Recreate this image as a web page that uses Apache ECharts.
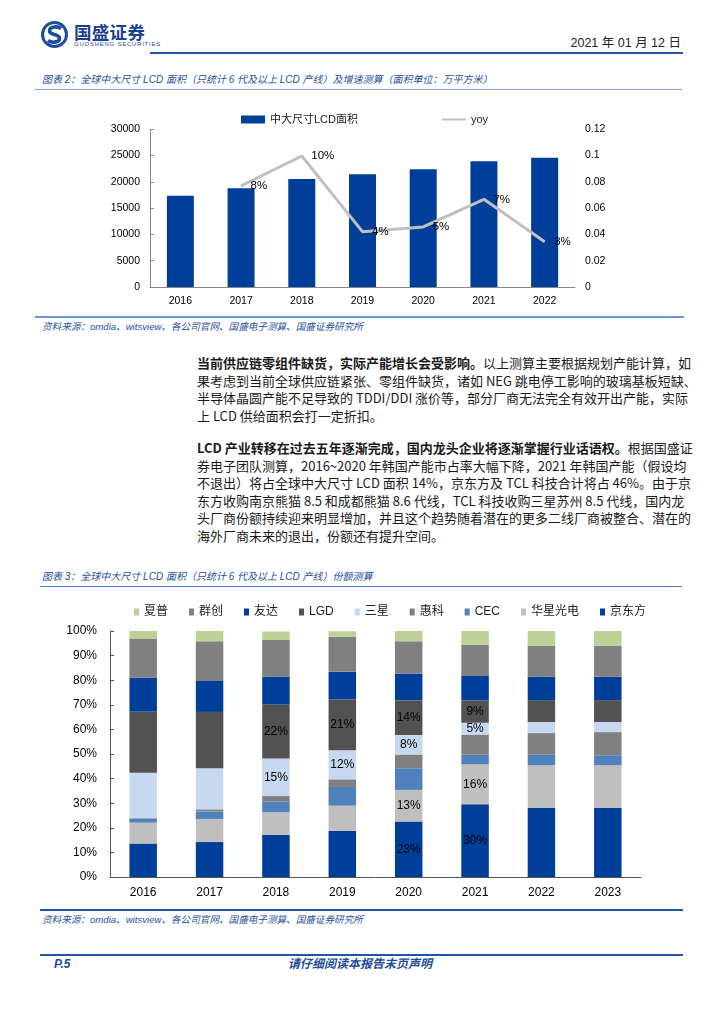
<!DOCTYPE html>
<html>
<head>
<meta charset="utf-8">
<script src="https://cdn.jsdelivr.net/npm/echarts@6/dist/echarts.min.js"></script>
<style>
  html, body { margin:0; padding:0; background:#fff; }
  body { width:724px; height:1024px; position:relative; overflow:hidden;
         font-family:"Liberation Sans","Noto Sans CJK SC",sans-serif; color:#1a1a1a; }
  .abs { position:absolute; white-space:nowrap; }
  .rule { position:absolute; }
  .cap { position:absolute; font-style:italic; color:#1f4e9c; white-space:nowrap;
         font-family:"Liberation Sans","Noto Sans CJK SC",sans-serif; }
  .para { position:absolute; left:197px; width:484px; font-size:13px; line-height:17.5px;
          font-family:"Noto Sans CJK SC",sans-serif; color:#1a1a1a; }
  .para div { text-align:justify; text-align-last:justify; white-space:nowrap; }
  .para div.last { text-align-last:left; }
  .para b { font-weight:700; }
</style>
</head>
<body>
<!-- header -->
<svg class="abs" style="left:40px;top:20px" width="30" height="30" viewBox="0 0 30 30">
  <circle cx="14.5" cy="14.5" r="13.5" fill="#1d4e9e"/>
  <circle cx="14.5" cy="14.5" r="10.5" fill="#fff"/>
  <path d="M21 8.5 C18 6 9.5 6 9.5 11 C9.5 15.5 19.5 13.5 19.5 18.5 C19.5 23 11 23 8 20.5" stroke="#1d4e9e" stroke-width="3.6" fill="none"/>
</svg>
<div class="abs" style="left:74px;top:21px;font-size:17.5px;font-weight:700;color:#1b3f8f;font-family:'Noto Sans CJK SC';letter-spacing:0.3px;line-height:22px">国盛证券</div>
<div class="abs" style="left:74px;top:41px;font-size:6px;color:#1d4e9e;letter-spacing:0.75px;line-height:7px">GUOSHENG SECURITIES</div>
<div class="abs" style="right:43px;top:35px;font-size:12.5px;color:#222;line-height:16px">2021 年 01 月 12 日</div>
<div class="rule" style="left:150px;top:51.5px;width:533px;height:2.5px;background:#2454a4"></div>

<div class="cap" style="left:42px;top:73px;font-size:10px;line-height:14px">图表 2：全球中大尺寸 LCD 面积（只统计 6 代及以上 LCD 产线）及增速测算（面积单位：万平方米）</div>
<div class="rule" style="left:35px;top:89px;width:647px;height:1px;background:#7fa6dc"></div>

<div id="c1" class="abs" style="left:0;top:95px;width:724px;height:220px"></div>

<div class="rule" style="left:35px;top:316px;width:649px;height:1.5px;background:#6a96d6"></div>
<div class="cap" style="left:42px;top:320px;font-size:9.6px;line-height:14px">资料来源：omdia、witsview、各公司官网、国盛电子测算、国盛证券研究所</div>

<div class="para" style="top:354px">
  <div><b>当前供应链零组件缺货，实际产能增长会受影响。</b>以上测算主要根据规划产能计算，如</div>
  <div>果考虑到当前全球供应链紧张、零组件缺货，诸如 NEG 跳电停工影响的玻璃基板短缺、</div>
  <div>半导体晶圆产能不足导致的 TDDI/DDI 涨价等，部分厂商无法完全有效开出产能，实际</div>
  <div class="last">上 LCD 供给面积会打一定折扣。</div>
</div>
<div class="para" style="top:439px">
  <div><b>LCD 产业转移在过去五年逐渐完成，国内龙头企业将逐渐掌握行业话语权。</b>根据国盛证</div>
  <div>券电子团队测算，2016~2020 年韩国产能市占率大幅下降，2021 年韩国产能（假设均</div>
  <div>不退出）将占全球中大尺寸 LCD 面积 14%，京东方及 TCL 科技合计将占 46%。由于京</div>
  <div>东方收购南京熊猫 8.5 和成都熊猫 8.6 代线，TCL 科技收购三星苏州 8.5 代线，国内龙</div>
  <div>头厂商份额持续迎来明显增加，并且这个趋势随着潜在的更多二线厂商被整合、潜在的</div>
  <div class="last">海外厂商未来的退出，份额还有提升空间。</div>
</div>

<div class="cap" style="left:42px;top:570px;font-size:10px;line-height:14px">图表 3：全球中大尺寸 LCD 面积（只统计 6 代及以上 LCD 产线）份额测算</div>
<div class="rule" style="left:40px;top:586px;width:642px;height:1px;background:#4a7fc8"></div>

<div id="c2" class="abs" style="left:0;top:590px;width:724px;height:315px"></div>

<div class="rule" style="left:40px;top:909px;width:643px;height:2px;background:#2454a4"></div>
<div class="cap" style="left:42px;top:913px;font-size:9.6px;line-height:14px">资料来源：omdia、witsview、各公司官网、国盛电子测算、国盛证券研究所</div>

<div class="rule" style="left:40px;top:953.5px;width:643px;height:2.5px;background:#2454a4"></div>
<div class="cap" style="left:54px;top:957px;font-size:12px;font-weight:700;line-height:15px">P.5</div>
<div class="cap" style="left:288px;top:957px;font-size:12px;font-weight:700;line-height:15px">请仔细阅读本报告末页声明</div>

<script>
// ---------- chart 1 data ----------
const years1 = ['2016','2017','2018','2019','2020','2021','2022'];
const lcdArea = [17380, 18770, 20550, 21440, 22390, 23910, 24610];
const yoy = [null, 0.0769, 0.0997, 0.0421, 0.0457, 0.0667, 0.0345];
const leftAxis = { min: 0, max: 30000, step: 5000 };
const rightAxis = { min: 0, max: 0.12, step: 0.02 };

// ---------- chart 2 data ----------
const years2 = ['2016','2017','2018','2019','2020','2021','2022','2023'];
const boe   = [13.6, 14.2, 17.1, 18.8, 22.6, 29.6, 28.0, 28.0]; // 京东方
const csot  = [8.5, 9.4, 9.2, 10.2, 12.8, 16.2, 17.5, 17.5];    // 华星光电
const cec   = [1.5, 3.0, 4.3, 7.6, 8.8, 3.9, 4.2, 4.0];         // CEC
const hkc   = [0.3, 0.9, 2.3, 3.1, 5.6, 8.2, 8.8, 9.4];         // 惠科
const sdc   = [18.5, 16.7, 15.3, 11.8, 7.9, 4.8, 4.5, 4.1];     // 三星
const lgd   = [24.8, 22.9, 21.9, 20.8, 14.2, 9.1, 8.9, 8.9];    // LGD
const auo   = [13.8, 12.6, 11.4, 11.1, 10.8, 9.9, 9.5, 9.5];    // 友达
const inx   = [16.0, 16.1, 14.9, 14.2, 13.1, 12.7, 12.6, 12.6]; // 群创
const sharp = [3.1, 4.2, 3.4, 2.3, 4.2, 5.6, 6.0, 6.0];         // 夏普
// which bars show a value label (year list per series)
const labelYears = {
  '京东方': ['2020','2021'],
  '华星光电': ['2020','2021'],
  '三星': ['2018','2019','2020','2021'],
  'LGD': ['2018','2019','2020','2021']
};

const FONT = 'Liberation Sans, Noto Sans CJK SC, sans-serif';

const c1 = echarts.init(document.getElementById('c1'), null, {renderer:'canvas'});
c1.setOption({
  animation: false,
  textStyle: { fontFamily: FONT },
  legend: {
    left: 236, top: 14, itemWidth: 24, itemHeight: 8, itemGap: 83,
    textStyle: { fontSize: 11, color: '#222', fontFamily: FONT },
    data: [{ name: '中大尺寸LCD面积', icon: 'rect' },
           { name: 'yoy', itemStyle: { color: 'rgba(0,0,0,0)', borderWidth: 0, opacity: 0 } }]
  },
  grid: { left: 150, top: 34.3, width: 425, height: 157.7 },
  xAxis: {
    type: 'category', data: years1,
    axisLine: { lineStyle: { color: '#888', width: 1 } },
    axisTick: { inside: true, length: 4, lineStyle: { color: '#888' } },
    axisLabel: { color: '#000', fontSize: 10.5, margin: 9, fontFamily: FONT }
  },
  yAxis: [{
    type: 'value', min: leftAxis.min, max: leftAxis.max, interval: leftAxis.step,
    axisLine: { show: true, lineStyle: { color: '#888' } },
    axisTick: { show: true, inside: true, length: 4, lineStyle: { color: '#888' } },
    splitLine: { show: false },
    axisLabel: { color: '#000', fontSize: 10.5, margin: 10, fontFamily: FONT,
      formatter: v => String(v) }
  }, {
    type: 'value', min: rightAxis.min, max: rightAxis.max, interval: rightAxis.step,
    axisLine: { show: false }, axisTick: { show: false }, splitLine: { show: false },
    axisLabel: { color: '#000', fontSize: 10.5, margin: 10, fontFamily: FONT,
      formatter: v => String(+v.toFixed(2)) }
  }],
  series: [{
    name: '中大尺寸LCD面积', type: 'bar', data: lcdArea, barWidth: 27,
    itemStyle: { color: '#003f99' }
  }, {
    name: 'yoy', type: 'line', yAxisIndex: 1, data: yoy,
    symbol: 'circle', symbolSize: 1, showSymbol: true,
    lineStyle: { color: '#c0c0c0', width: 3 }, itemStyle: { color: '#c0c0c0' },
    label: { show: true, position: 'right', distance: 9, color: '#000', fontSize: 11.5,
      fontFamily: FONT, formatter: p => Math.round(p.value * 100) + '%' }
  }]
});

function mk(name, arr, color) {
  const ly = labelYears[name] || [];
  return {
    name, type: 'bar', stack: 'share', barWidth: 27.5,
    itemStyle: { color },
    data: arr.map((v, i) => ly.includes(years2[i])
      ? { value: v, label: { show: true } } : v),
    label: { show: false, position: 'inside', color: '#000', fontSize: 12,
      fontFamily: FONT, formatter: p => Math.round(p.value) + '%' }
  };
}

const c2 = echarts.init(document.getElementById('c2'), null, {renderer:'canvas'});
c2.setOption({
  animation: false,
  textStyle: { fontFamily: FONT },
  legend: {
    left: 129, top: 11, itemWidth: 5, itemHeight: 7, itemGap: 21,
    textStyle: { fontSize: 12, color: '#222', fontFamily: FONT },
    data: ['夏普','群创','友达','LGD','三星','惠科','CEC','华星光电','京东方'].map(n => ({ name: n, icon: 'rect' }))
  },
  grid: { left: 110, top: 41, width: 531, height: 246 },
  xAxis: {
    type: 'category', data: years2,
    axisLine: { lineStyle: { color: '#555', width: 1 } },
    axisTick: { inside: true, length: 4, lineStyle: { color: '#555' } },
    axisLabel: { color: '#000', fontSize: 12, margin: 10, fontFamily: FONT }
  },
  yAxis: {
    type: 'value', min: 0, max: 100, interval: 10,
    axisLine: { show: true, lineStyle: { color: '#555' } },
    axisTick: { show: true, inside: true, length: 4, lineStyle: { color: '#555' } },
    splitLine: { show: false },
    axisLabel: { color: '#000', fontSize: 12, margin: 13, formatter: '{value}%', fontFamily: FONT }
  },
  series: [
    mk('京东方', boe, '#003f99'),
    mk('华星光电', csot, '#bfbfbf'),
    mk('CEC', cec, '#4f81bd'),
    mk('惠科', hkc, '#808080'),
    mk('三星', sdc, '#c6d9f0'),
    mk('LGD', lgd, '#525252'),
    mk('友达', auo, '#003f99'),
    mk('群创', inx, '#808080'),
    mk('夏普', sharp, '#bcd195')
  ]
});
</script>
</body>
</html>
